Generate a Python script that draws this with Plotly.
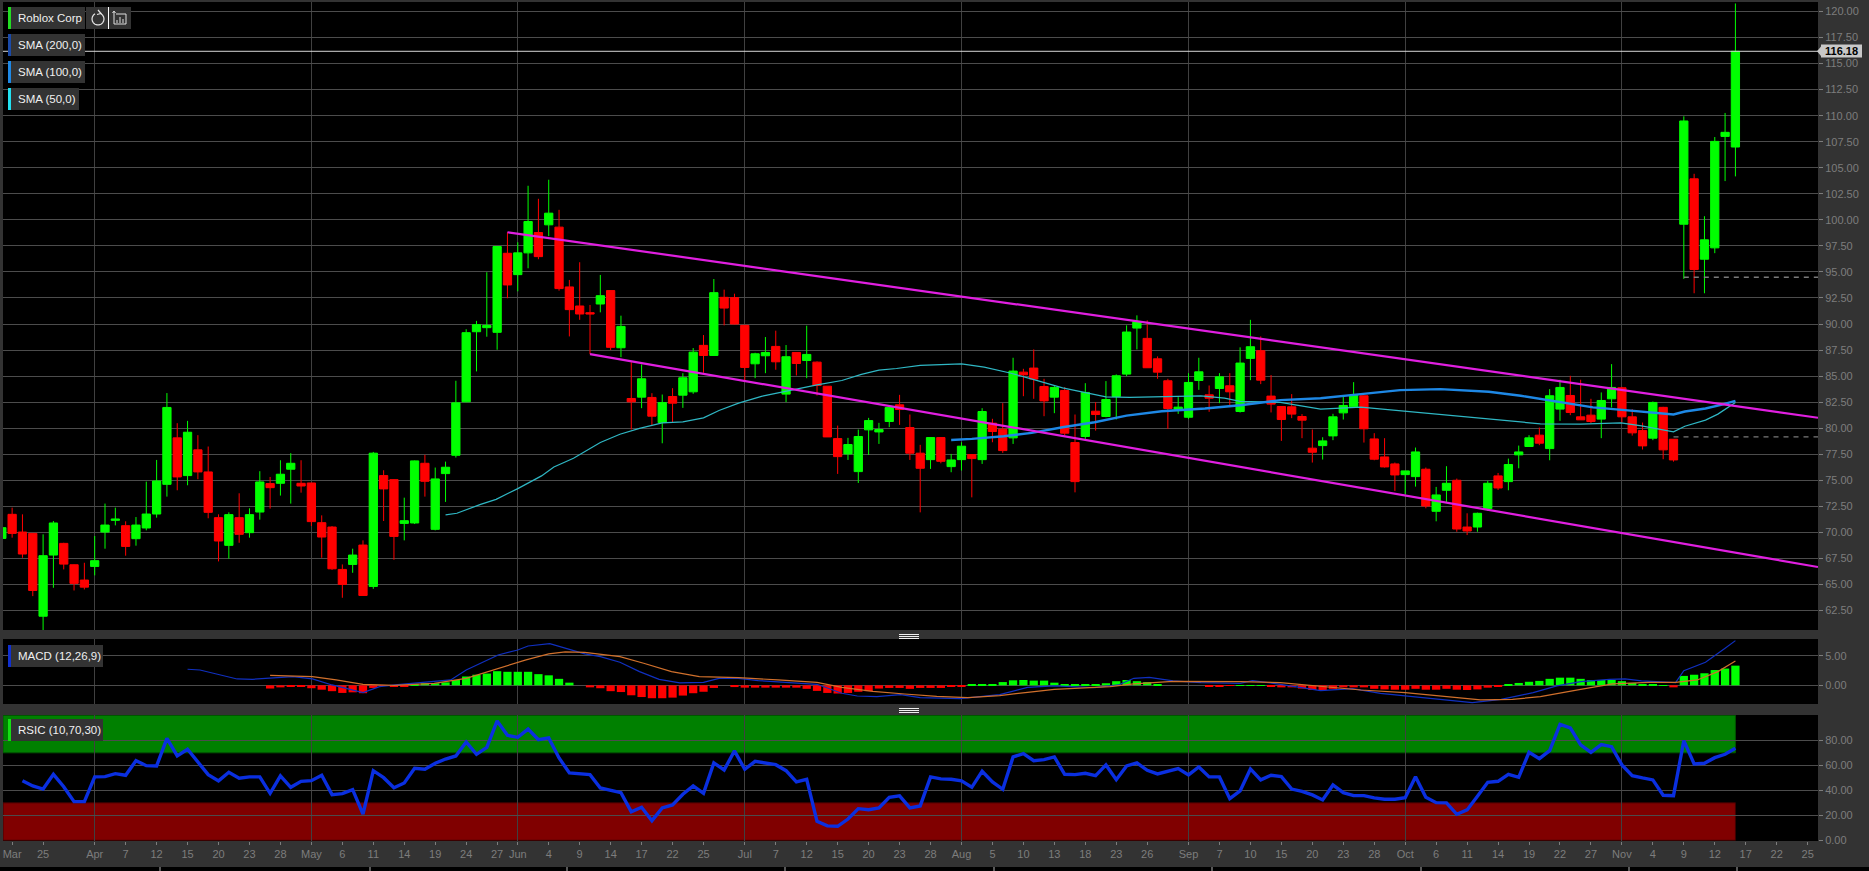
import math
import plotly.graph_objects as go

# ---------- data ----------
month_ticks = [9, 30, 50, 72, 93, 115, 136, 157]
tick_index = [1, 4, 9, 12, 15, 18, 21, 24, 27, 30, 33, 36, 39, 42, 45, 48, 50, 53, 56, 59,
              62, 65, 68, 72, 75, 78, 81, 84, 87, 90, 93, 96, 99, 102, 105, 108, 111, 115, 118,
              121, 124, 127, 130, 133, 136, 139, 142, 145, 148, 151, 154, 157, 160, 163, 166, 169, 172, 175]
tick_text = ["Mar", "25", "Apr", "7", "12", "15", "20", "23", "28", "May", "6", "11", "14", "19", "24", "27", "Jun", "4", "9", "14",
             "17", "22", "25", "Jul", "7", "12", "15", "20", "23", "28", "Aug", "5", "10", "13", "18", "23", "26", "Sep", "7",
             "10", "15", "20", "23", "28", "Oct", "6", "11", "14", "19", "22", "27", "Nov", "4", "9", "12", "17", "22", "25"]

opens = [69.42, 71.73, 70.03, 69.9, 61.95, 67.82, 68.94, 66.89, 65.42, 66.73,
         70.03, 71.15, 70.64, 69.39, 70.42, 71.76, 74.61, 79.07, 75.45, 77.92,
         75.8, 71.41, 68.75, 71.41, 69.97, 71.95, 74.68, 74.71, 76.06, 74.71,
         74.74, 70.93, 70.51, 66.44, 66.92, 68.78, 64.81, 75.45, 75.06, 70.86,
         70.9, 76.63, 70.29, 75.64, 77.4, 82.53, 89.26, 89.65, 89.2, 96.79,
         94.74, 96.83, 98.78, 99.52, 99.3, 93.56, 91.73, 91.09, 91.92, 93.21,
         87.72, 82.85, 82.98, 82.95, 80.54, 83.04, 83.17, 83.49, 87.95, 86.98,
         92.56, 92.53, 89.87, 86.18, 86.95, 87.85, 83.27, 87.27, 86.5, 86.34,
         84.03, 79.0, 77.53, 75.83, 79.84, 79.64, 80.64, 82.24, 80.06, 77.6,
         76.98, 79.1, 76.31, 76.98, 77.47, 76.98, 80.48, 79.9, 79.07, 85.38,
         85.77, 84.0, 82.98, 83.62, 78.62, 79.2, 81.63, 81.12, 83.04, 85.19,
         89.61, 88.62, 86.66, 84.55, 81.82, 81.05, 84.58, 83.2, 83.81, 84.07,
         81.6, 86.7, 87.44, 83.08, 82.08, 82.05, 81.12, 78.08, 78.33, 79.26,
         81.47, 82.05, 83.11, 78.97, 77.24, 76.57, 75.54, 75.35, 76.06, 72.02,
         74.04, 75.0, 70.51, 70.51, 72.28, 75.42, 74.87, 77.44, 78.24, 79.33,
         78.04, 81.83, 83.14, 81.09, 81.25, 80.87, 82.82, 83.88, 81.09, 79.77,
         79.04, 82.0, 78.94, 99.58, 103.94, 96.22, 97.31, 108.01, 106.99]
highs = [70.6, 72.37, 71.73, 69.9, 69.81, 71.09, 69, 66.92, 67.08, 69.65,
         72.76, 72.37, 71.06, 71.47, 74.87, 76.95, 83.37, 80.48, 80.7, 79.33,
         78.24, 71.73, 71.92, 73.75, 72.31, 75.87, 75.32, 76.92, 77.6, 76.92,
         74.74, 71.63, 70.6, 66.92, 68.43, 69.23, 77.72, 75.96, 75.1, 73.33,
         76.9, 77.44, 76.22, 76.79, 84.55, 89.5, 90.3, 94.97, 97.44, 98.81,
         97.85, 103.27, 102.02, 103.85, 100.96, 94.23, 95.93, 91.83, 94.71, 93.21,
         90.8, 86.34, 86.12, 83.36, 83.23, 83.84, 85.28, 87.69, 88.94, 94.32,
         93.3, 92.91, 89.87, 87.24, 88.75, 89.36, 87.98, 87.27, 89.84, 86.41,
         84.03, 80.25, 79.07, 79.87, 80.99, 80.51, 82.18, 83.2, 81.31, 78.4,
         79.13, 79.13, 77.53, 78.65, 77.47, 81.92, 80.9, 82.4, 86.76, 85.7,
         87.56, 84.74, 84.1, 83.94, 81.31, 84.32, 82.5, 84.52, 85.16, 89.87,
         90.83, 90.35, 86.89, 84.74, 82.98, 85.28, 86.76, 84.1, 85.28, 85.28,
         87.76, 90.4, 88.81, 85.1, 82.08, 83.27, 81.35, 79.87, 79.13, 81.38,
         83.01, 84.42, 83.11, 79.52, 79.04, 76.7, 75.9, 78.14, 76.22, 74.36,
         76.35, 75.16, 71.83, 71.89, 74.94, 75.7, 77.08, 78.33, 79.33, 80.06,
         83.75, 84.65, 85.03, 84.65, 82.82, 83.43, 86.15, 83.97, 81.83, 80.54,
         82.56, 82.05, 78.94, 109.94, 104.42, 100.35, 107.95, 110.26, 120.77]
lows = [69.2, 69.49, 67.56, 63.88, 60.51, 64.68, 66.44, 64.42, 64.52, 65.87,
        68.43, 70.67, 67.76, 68.72, 70.19, 71.41, 73.43, 74.04, 74.52, 75.1,
        71.35, 67.21, 67.47, 69, 69.49, 71.22, 72.28, 73.53, 72.76, 73.81,
        70.61, 67.56, 66.4, 63.72, 66.12, 63.94, 64.58, 71.09, 67.37, 69.23,
        70.8, 73.43, 70.19, 72.92, 77.18, 82.5, 85.45, 88.78, 87.53, 92.47,
        93.14, 95.35, 96.22, 98.43, 93.2, 88.81, 90.4, 87.12, 91.12, 87.5,
        86.82, 79.87, 81.92, 80.25, 78.55, 80.57, 81.95, 83.3, 85.32, 86.98,
        89.87, 89.96, 84.42, 84.8, 85.28, 85.61, 82.5, 85.06, 84.8, 83.14,
        79.16, 75.61, 76.95, 74.74, 77.43, 78.49, 80.1, 80.32, 76.95, 71.92,
        76.09, 76.63, 75.77, 75.93, 73.36, 76.57, 78.65, 77.63, 78.49, 83.07,
        82.82, 81.15, 81.44, 79.29, 73.84, 78.97, 79.77, 81.05, 80.83, 85.0,
        87.56, 85.8, 84.74, 79.93, 81.37, 80.89, 83.68, 81.57, 82.4, 82.02,
        81.5, 84.61, 84.23, 81.51, 78.78, 80.96, 79.04, 76.7, 76.99, 78.85,
        80.83, 82.05, 78.62, 76.92, 76.22, 73.97, 73.65, 74.39, 72.31, 71.06,
        72.92, 70.06, 69.74, 70.06, 72.05, 74.07, 74.04, 76.15, 78.2, 78.37,
        76.92, 80.7, 81.25, 80.8, 80.48, 79.04, 81.99, 80.54, 79.29, 77.95,
        78.85, 77.02, 76.79, 94.33, 92.95, 92.95, 96.8, 103.72, 104.17]
closes = [70.45, 69.9, 67.92, 64.42, 67.76, 70.9, 66.95, 65.1, 64.74, 67.28,
          70.7, 71.28, 68.65, 70.7, 71.76, 74.93, 81.99, 75.32, 79.61, 75.8,
          71.92, 69.17, 71.7, 69.81, 71.7, 74.84, 74.29, 75.58, 76.63, 74.45,
          71.03, 69.55, 66.5, 65.0, 67.82, 63.94, 77.6, 74.17, 69.61, 71.12,
          76.86, 74.9, 75.13, 76.25, 82.43, 89.17, 89.94, 89.87, 97.44, 93.75,
          96.83, 99.84, 96.47, 100.64, 93.4, 91.38, 90.96, 90.96, 92.72, 87.76,
          89.77, 82.53, 84.74, 81.15, 82.46, 82.4, 84.84, 87.3, 86.98, 93.01,
          91.53, 90.0, 85.83, 87.14, 87.27, 86.37, 86.86, 86.21, 87.08, 84.1,
          79.16, 77.27, 78.43, 79.2, 80.73, 79.87, 81.98, 81.79, 77.6, 76.15,
          79.1, 76.82, 76.95, 78.27, 77.08, 81.6, 79.68, 77.85, 85.48, 85.12,
          84.71, 82.62, 83.91, 79.52, 74.87, 83.43, 81.31, 82.75, 85.03, 89.23,
          90.22, 85.8, 85.38, 81.89, 82.02, 84.39, 85.41, 82.88, 84.93, 83.49,
          86.25, 87.82, 84.61, 82.31, 80.83, 81.35, 80.77, 77.69, 78.78, 81.09,
          82.18, 83.17, 79.94, 77.02, 76.28, 75.51, 75.9, 77.72, 72.53, 73.59,
          74.71, 70.32, 70.13, 71.83, 74.71, 74.26, 76.51, 77.72, 79.07, 78.56,
          83.11, 83.91, 81.51, 80.8, 80.64, 82.66, 83.91, 81.09, 79.55, 78.3,
          82.47, 77.92, 76.95, 109.49, 95.23, 98.08, 107.53, 108.4, 116.18]

sma50_x = [43, 44.1, 46.4, 47.9, 50, 52.3, 53.5, 55.4, 58, 59.9, 61.8, 64, 66, 68, 69.5, 71.4, 73.7, 76, 79,
           81.4, 83.3, 85, 86.7, 89, 93, 95.2, 97.6, 100.1, 102.8, 104.9, 107, 109.3, 113.5, 116.2, 118.5, 120,
           123.9, 127.8, 131.7, 135.5, 139.4, 143.3, 146, 149.1, 153, 156.9, 158.9, 162, 163.1, 165.1, 166.3, 168]
sma50_y = [71.67, 71.83, 72.69, 73.17, 74.2, 75.42, 76.28, 77.11, 78.62, 79.42, 79.98, 80.5, 80.6, 80.99, 81.7, 82.4, 83.07, 83.55, 84.16,
           84.58, 85.16, 85.57, 85.73, 86.02, 86.18, 85.86, 85.32, 84.64, 83.87, 83.43, 83.0, 82.95, 83.04, 83.1, 82.88, 82.58,
           82.47, 81.83, 82.02, 81.67, 81.35, 80.96, 80.7, 80.42, 80.38, 80.51, 80.22, 79.65, 80.19, 80.77, 81.35, 82.47]
sma100_x = [92, 94, 97.1, 99.8, 102.8, 105.9, 109, 112.4, 116.6, 120, 123.9, 127.8, 131.7, 135.5, 139.4, 144.1,
            147.2, 151.1, 154.2, 157.3, 160.4, 162, 163.1, 165.1, 166.6, 168]
sma100_y = [78.87, 78.97, 79.23, 79.55, 80.09, 80.57, 81.2, 81.63, 81.89, 82.2, 82.69, 82.88, 83.27, 83.65, 83.75, 83.49,
            83.11, 82.47, 82.0, 81.73, 81.41, 81.31, 81.6, 81.89, 82.24, 82.63]

channel_top_x = [49, 176]
channel_top_y = [98.81, 81.0]
channel_low_x = [57, 176]
channel_low_y = [87.11, 66.67]
last_price = 116.18
gap_lines = [(163, 94.49), (162, 79.17)]

macd_x = [18, 19.2, 20.9, 22.8, 24.3, 26.6, 28.2, 30.1, 32, 35, 36.6, 38.1, 40, 41.9, 43.5, 45, 46.6, 48.1, 50, 51, 53.1, 54.6, 56.5, 58, 59.9,
          61.8, 63.7, 65.7, 68, 69.5, 71.4, 73.3, 76, 79, 81.4, 82.9, 84.8, 87.1, 89, 92.9, 96.7, 99.4, 102, 105.9, 108.2, 109.7, 111.2, 113.5, 116.2, 120,
          121.2, 123.9, 127.8, 130.9, 133.6, 136, 138.7, 142.5, 145.3, 148.4, 150.7, 153, 155.8, 157.3, 158.9, 160.4, 162.2, 163, 165.1, 167, 168]
macd_y = [2.73, 2.61, 1.88, 1.08, 1.02, 1.3, 1.48, 1.08, 0.06, -1.25, -0.23, 0.06, 0.34, 0.57, 0.91, 2.61, 3.86, 5.17, 6.02, 6.7, 7.1, 6.3, 5.34, 4.89, 3.92,
          2.33, 1.02, 0.4, 0.51, 1.19, 1.19, 0.8, 0.51, 0.17, -1.36, -1.82, -1.93, -1.59, -2.1, -2.27, -1.59, -0.34, -0.11, -0.4, 0.06, 1.19, 1.36, 0.74, 0.45, 0.34,
          0.8, 0.17, -0.91, -0.57, -1.36, -1.82, -2.22, -2.95, -2.39, -1.25, -0.11, 0.63, 1.02, 1.08, 0.74, 0.63, 0.45, 2.5, 3.92, 6.3, 7.61]
signal_x = [26, 30.1, 32.4, 35, 38, 41.9, 45, 47.7, 50.8, 53, 54.6, 56.5, 58.4, 59.9, 62.2, 64.9, 67.6, 71.4, 75.2, 79, 81.4, 84.4, 87.5, 90.6, 93.6, 96.7, 99.4, 102,
            107.4, 109.7, 113.5, 120, 123.9, 127.8, 131.7, 136, 139.4, 143.3, 146.4, 149.1, 153, 156.1, 159.6, 162.2, 164.3, 166.3, 168]
signal_y = [1.7, 1.48, 0.91, 0.17, 0, 0.34, 1.19, 2.61, 4.32, 5.34, 5.68, 5.62, 5.23, 4.89, 3.75, 2.33, 1.48, 1.31, 0.91, 0.51, -0.34, -1.02, -1.48, -1.88, -2.1, -1.76, -1.19, -0.68,
            -0.23, 0.23, 0.68, 0.63, 0.45, -0.23, -0.8, -1.25, -1.82, -2.5, -2.39, -1.93, -0.68, 0.23, 0.51, 0.51, 0.91, 2.33, 4.15]
hist_start = 26
macd_hist = [-.55, -.35, -.2, -.2, -.5, -.75, -1.0, -1.3, -1.2, -1.35,
             -.45, -.1, -.2, -.2, .25, .35, .35, .5, .9, 1.5,
             1.8, 2.0, 2.4, 2.3, 2.3, 2.3, 1.9, 1.7, 1.1, .45,
             0, -.35, -.5, -1.0, -1.15, -1.7, -2.0, -2.2, -2.2, -2.1,
             -1.75, -1.35, -1.1, -.45, 0, -.3, -.4, -.4, -.4, -.4,
             -.4, -.4, -.6, -.95, -1.3, -1.4, -1.3, -1.1, -1.0, -.55,
             -.45, -.45, -.6, -.45, -.45, -.45, -.25, -.25, .12, .12,
             .12, .55, .85, .9, .8, .8, .45, .12, .17, .17,
             .17, .35, .7, .9, .7, .55, .17, 0, 0, 0,
             0, -.15, -.15, -.1, .05, .05, .05, -.2, -.35, -.35,
             -.55, -.8, -.8, -.6, -.35, -.35, -.35, -.6, -.7, -.75,
             -.75, -.6, -.75, -.75, -.6, -.75, -.8, -.7, -.4, -.2,
             .12, .4, .6, .75, 1.1, 1.3, 1.3, 1.1, .9, .9,
             .9, .7, .4, .17, .2, .05, -.35, 1.6, 1.8, 2.05,
             2.6, 2.85, 3.35]

rsi_start = 2
rsi = [47.7, 43.5, 41, 52.8, 42.9, 30.9, 30.9, 50.7, 50.9, 53.3, 52, 63.7, 59.7, 59.5, 81.6, 67.5, 72.8, 62.4,
       52.5, 47.5, 54.4, 49.6, 50.7, 50.7, 37.6, 51.5, 42.4, 47.2, 47.7, 52, 36.5, 37.3, 40.5, 21, 55.7, 50.1,
       42.1, 45.9, 57.6, 56.8, 61.6, 65, 67.5, 78.7, 68.8, 74.4, 95.5, 84, 82.4, 89, 80.5, 81.9, 65.9, 53.9,
       53.3, 52.5, 41.9, 39.7, 38.1, 22.7, 26.4, 15.7, 25.9, 28.3, 36.8, 43.5, 37.6, 61.9, 56.3, 71.5, 56.8, 63.2,
       62.1, 60.5, 55.7, 46.7, 48.8, 15.2, 11.5, 11.2, 17, 25.3, 24.5, 25.9, 34.4, 35.5, 25.9, 27.5, 50.7, 49.1,
       48.8, 47.5, 42.4, 55.2, 46.7, 40.8, 66.7, 69.3, 63.7, 64.5, 66.7, 52.8, 52.5, 53.6, 51.7, 60.3, 48.5, 59.5,
       61.9, 56, 53.1, 54.9, 57.3, 52.3, 58.7, 50.7, 50.7, 33.3, 39.5, 57.1, 48.3, 52, 50.9, 41, 39.2, 36.3,
       32.3, 44.3, 38.1, 35.7, 35.7, 33.9, 32.8, 32.8, 34.1, 50.9, 34.4, 30.1, 29.9, 20.8, 24.3, 35.2, 46.4, 47.2,
       52.8, 50.4, 70.4, 65.3, 71.7, 92.8, 89.9, 76.3, 70.4, 76.5, 74.9, 60.3, 51.7, 49.9, 48.3, 36, 35.7, 79.7,
       61.1, 61.6, 66.1, 68.8, 73.6]
rsi_upper = 70
rsi_lower = 30
rsi_top = 100
rsi_bottom = 0

legend_boxes = [("Roblox Corp", 8, 85, 7, 29, "#22dd22"),
                ("SMA (200,0)", 8, 85, 34, 56, "#1a4aa8"),
                ("SMA (100,0)", 8, 85, 61, 83, "#1e88e5"),
                ("SMA (50,0)", 8, 79, 88, 110, "#22e0f0"),
                ("MACD (12,26,9)", 8, 103, 645, 667, "#1030d0"),
                ("RSIC (10,70,30)", 8, 103, 719, 741, "#14e014")]

# ---------- geometry ----------
W, H = 1869, 871
L, R, T, B = 3, 1818, 2, 841
PANE_MAIN = (2, 630)
PANE_MACD = (639, 704)
PANE_RSI = (715, 841)
BAR_FIRST_PX, BAR_STEP_PX = 1.82, 10.319


def px(x):
    return (x - L) / (R - L)


def py(y):
    return (B - y) / (B - T)


x_range = [(L - BAR_FIRST_PX) / BAR_STEP_PX, (R - BAR_FIRST_PX) / BAR_STEP_PX]
GREEN = "#00ff00"
RED = "#ff0000"
FONT = "Liberation Sans"
GRID = "#4c4c4c"
VGRID = "#404040"
AX_TXT = "#7d7d7d"

bars = list(range(len(opens)))
fig = go.Figure()

fig.add_trace(go.Candlestick(
    x=bars, open=opens, high=highs, low=lows, close=closes, xaxis="x", yaxis="y",
    increasing=dict(line=dict(color=GREEN, width=1), fillcolor=GREEN),
    decreasing=dict(line=dict(color=RED, width=1), fillcolor=RED),
    whiskerwidth=0, showlegend=False))
fig.add_trace(go.Scatter(x=sma50_x, y=sma50_y, mode="lines", xaxis="x", yaxis="y",
                         line=dict(color="#2fb7c4", width=1.2)))
fig.add_trace(go.Scatter(x=sma100_x, y=sma100_y, mode="lines", xaxis="x", yaxis="y",
                         line=dict(color="#1e88e5", width=2.4)))
for xs, ys in ((channel_top_x, channel_top_y), (channel_low_x, channel_low_y)):
    fig.add_trace(go.Scatter(x=xs, y=ys, mode="lines", xaxis="x", yaxis="y",
                             line=dict(color="#e01fe0", width=2.2)))
fig.add_trace(go.Scatter(x=[x_range[0], x_range[1]], y=[last_price, last_price], mode="lines",
                         xaxis="x", yaxis="y", line=dict(color="#d8d8d8", width=1)))
for start, level in gap_lines:
    fig.add_trace(go.Scatter(x=[start, x_range[1]], y=[level, level], mode="lines", xaxis="x", yaxis="y",
                             line=dict(color="#7a7a7a", width=1.4, dash="5px,5px")))

hist_x = [hist_start + i for i in range(len(macd_hist))]
fig.add_trace(go.Bar(x=hist_x, y=macd_hist, width=0.8, xaxis="x2", yaxis="y2",
                     marker=dict(color=[GREEN if v >= 0 else RED for v in macd_hist], line=dict(width=0))))
fig.add_trace(go.Scatter(x=macd_x, y=macd_y, mode="lines", xaxis="x2", yaxis="y2",
                         line=dict(color="#1030c0", width=1.2)))
fig.add_trace(go.Scatter(x=signal_x, y=signal_y, mode="lines", xaxis="x2", yaxis="y2",
                         line=dict(color="#d0702c", width=1.2)))

rsi_x = [rsi_start + i for i in range(len(rsi))]
fig.add_trace(go.Scatter(x=rsi_x, y=rsi, mode="lines", xaxis="x3", yaxis="y3",
                         line=dict(color="#0a2fe0", width=3.4)))

shapes = []
# RSI bands
last_bar = bars[-1]
shapes.append(dict(type="rect", xref="x3", yref="y3", x0=x_range[0], x1=last_bar, y0=rsi_upper, y1=rsi_top,
                   fillcolor="#008000", line=dict(color="#005500", width=1), layer="below"))
shapes.append(dict(type="rect", xref="x3", yref="y3", x0=x_range[0], x1=last_bar, y0=rsi_bottom, y1=rsi_lower,
                   fillcolor="#800000", line=dict(color="#400000", width=1), layer="below"))

annotations = []
# legend chips
for text, x0, x1, y0, y1, color in legend_boxes:
    shapes.append(dict(type="rect", xref="paper", yref="paper", x0=px(x0), x1=px(x1), y0=py(y1), y1=py(y0),
                       fillcolor="#333333", line=dict(width=0), layer="above"))
    shapes.append(dict(type="rect", xref="paper", yref="paper", x0=px(x0), x1=px(x0 + 3), y0=py(y1), y1=py(y0),
                       fillcolor=color, line=dict(width=0), layer="above"))
    annotations.append(dict(xref="paper", yref="paper", x=px(x0 + 7.5), y=py((y0 + y1) / 2), text=text,
                            xanchor="left", yanchor="middle", showarrow=False,
                            font=dict(family=FONT, size=11.5, color="#f0f0f0")))

# buttons beside the first chip
shapes.append(dict(type="rect", xref="paper", yref="paper", x0=px(86), x1=px(131), y0=py(29), y1=py(7),
                   fillcolor="#333333", line=dict(width=0), layer="above"))
shapes.append(dict(type="line", xref="paper", yref="paper", x0=px(108.5), x1=px(108.5), y0=py(29), y1=py(7),
                   line=dict(color="#ffffff", width=1), layer="above"))
arc_points = [(98 + 6 * math.cos(math.radians(a)), 19 + 6 * math.sin(math.radians(a))) for a in range(-60, 250, 20)]
arc_path = "M " + " L ".join(f"{px(a)} {py(b)}" for a, b in arc_points)
shapes.append(dict(type="path", xref="paper", yref="paper", layer="above", line=dict(color="#e6e6e6", width=1.2), path=arc_path))
shapes.append(dict(type="path", xref="paper", yref="paper", layer="above", line=dict(color="#e6e6e6", width=1.2),
                   path=f"M {px(98)} {py(10)} L {px(101)} {py(13.5)} L {px(97)} {py(14.5)}"))
shapes.append(dict(type="path", xref="paper", yref="paper", layer="above", line=dict(color="#e0e0e0", width=1),
                   path=f"M {px(116)} {py(14)} L {px(126)} {py(14)} L {px(126)} {py(24)} L {px(114)} {py(24)} L {px(114)} {py(12)}"))
shapes.append(dict(type="path", xref="paper", yref="paper", layer="above", line=dict(color="#e0e0e0", width=1),
                   path=f"M {px(112.5)} {py(13)} L {px(114)} {py(11)} L {px(115.5)} {py(13)}"))
for bx, by in ((117, 20), (120, 17), (123, 19)):
    shapes.append(dict(type="line", xref="paper", yref="paper", x0=px(bx), x1=px(bx), y0=py(23), y1=py(by),
                       line=dict(color="#e0e0e0", width=1), layer="above"))

# pane grips
for gy in (636.5, 710.5):
    for dy in (-2, 0, 2):
        shapes.append(dict(type="line", xref="paper", yref="paper", x0=px(899), x1=px(919), y0=py(gy + dy), y1=py(gy + dy),
                           line=dict(color="#f0f0f0", width=1), layer="above"))

# bottom strip
shapes.append(dict(type="rect", xref="paper", yref="paper", x0=px(0), x1=px(W), y0=py(H), y1=py(867),
                   fillcolor="#000000", line=dict(width=0), layer="above"))
for tx in (160, 370, 567, 785, 994, 1212, 1421, 1629, 1737):
    shapes.append(dict(type="line", xref="paper", yref="paper", x0=px(tx), x1=px(tx), y0=py(H), y1=py(867),
                       line=dict(color="#b0b0b0", width=1), layer="above"))

# last price tag
shapes.append(dict(type="rect", xref="paper", yref="paper", x0=px(1821), x1=px(1862), y0=py(57.5), y1=py(44.5),
                   fillcolor="#c8c8c8", line=dict(width=0), layer="above"))
shapes.append(dict(type="path", xref="paper", yref="y", layer="above", fillcolor="#c8c8c8", line=dict(width=0),
                   path=f"M {px(1817)} {last_price} L {px(1821)} {last_price + 0.45} L {px(1821)} {last_price - 0.45} Z"))
annotations.append(dict(xref="paper", yref="y", x=px(1841.5), y=last_price, text=f"<b>{last_price:.2f}</b>", xanchor="center",
                        yanchor="middle", showarrow=False, font=dict(family=FONT, size=11, color="#000000")))

price_ticks = [62.5 + 2.5 * i for i in range(24)]
common_y = dict(side="right", showgrid=True, gridcolor=GRID, gridwidth=1, zeroline=False, ticks="outside",
                ticklen=4, tickcolor=AX_TXT, tickfont=dict(family=FONT, size=11, color=AX_TXT),
                tickformat=".2f", showline=False, automargin=False)
common_x = dict(range=x_range, showgrid=True, gridcolor=VGRID, gridwidth=1, zeroline=False, showline=False,
                automargin=False, tickmode="array")

fig.update_layout(
    width=W, height=H, autosize=False, template="none",
    paper_bgcolor="#333333", plot_bgcolor="#000000", showlegend=False, hovermode=False,
    margin=dict(l=L, r=W - R, t=T, b=H - B, pad=0), bargap=0.2, boxgap=0.2, boxgroupgap=0,
    font=dict(family=FONT),
    shapes=shapes, annotations=annotations,
    xaxis=dict(**common_x, domain=[0, 1], anchor="y", tickvals=month_ticks, showticklabels=False, ticks="",
               rangeslider=dict(visible=False)),
    xaxis2=dict(**common_x, domain=[0, 1], anchor="y2", matches="x", tickvals=month_ticks, showticklabels=False, ticks=""),
    xaxis3=dict(range=x_range, zeroline=False, showline=False, automargin=False, tickmode="array", showgrid=False,
                domain=[0, 1], anchor="y3", matches="x", tickvals=tick_index, ticktext=tick_text, ticks="outside",
                ticklen=3, tickcolor=AX_TXT, tickangle=0, tickfont=dict(family=FONT, size=11, color=AX_TXT),
                minor=dict(tickmode="array", tickvals=month_ticks, showgrid=True, gridcolor=VGRID, gridwidth=1, ticks="")),
    yaxis=dict(**common_y, domain=[py(PANE_MAIN[1]), py(PANE_MAIN[0])], anchor="x",
               range=[120 - (PANE_MAIN[1] - 11.5) / 10.417, 120 + (11.5 - PANE_MAIN[0]) / 10.417],
               tickmode="array", tickvals=price_ticks),
    yaxis2=dict(**common_y, domain=[py(PANE_MACD[1]), py(PANE_MACD[0])], anchor="x2",
                range=[-(PANE_MACD[1] - 685.3) / 5.87, (685.3 - PANE_MACD[0]) / 5.87],
                tickmode="array", tickvals=[0, 5]),
    yaxis3=dict(**common_y, domain=[py(PANE_RSI[1]), py(PANE_RSI[0])], anchor="x3",
                range=[-(PANE_RSI[1] - 840.3) / 1.25, (840.3 - PANE_RSI[0]) / 1.25],
                tickmode="array", tickvals=[0, 20, 40, 60, 80]),
)

fig.write_html("out.html", config=dict(displayModeBar=False),
               post_script="document.body.style.margin='0';document.body.style.background='#000';")
